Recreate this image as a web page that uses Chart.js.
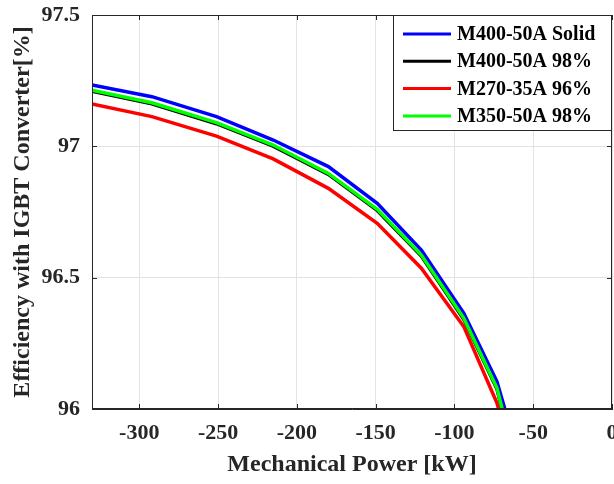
<!DOCTYPE html>
<html lang="en">
<head>
  <meta charset="UTF-8" />
  <title>Efficiency with IGBT Converter</title>
  <script src="https://cdn.jsdelivr.net/npm/chart.js"></script>
  <style>
    body { margin: 0; background: #fff; }
    #wrap { width: 614px; height: 484px; }
  </style>
</head>
<body>
  <div id="wrap"><canvas id="chart" width="614" height="484"></canvas></div>

  <script>
    // mechanical power [kW] at the curve breakpoints
    const power = [-330, -292, -251, -215, -180, -149, -121, -94, -73, -68];

    const m400Solid = [97.234, 97.189, 97.113, 97.024, 96.923, 96.783, 96.605, 96.364, 96.104, 96.0];
    const m400_98  = [97.210, 97.162, 97.086, 97.001, 96.893, 96.756, 96.582, 96.341, 96.076, 95.956];
    const m270_96  = [97.161, 97.113, 97.039, 96.952, 96.840, 96.707, 96.536, 96.313, 96.023, 95.91];
    const m350_98  = [97.214, 97.166, 97.090, 97.005, 96.897, 96.760, 96.586, 96.345, 96.080, 95.96];

    const xTicks = [-300, -250, -200, -150, -100, -50, 0];
    const yTicks = [96, 96.5, 97, 97.5];

    const seriesNames = ['M400-50A Solid', 'M400-50A 98%', 'M270-35A 96%', 'M350-50A 98%'];
    const seriesColors = ['#0000ff', '#000000', '#ff0000', '#00ff00'];
    const seriesData = [m400Solid, m400_98, m270_96, m350_98];

    const serif = '"Liberation Serif", "Times New Roman", serif';
    const axisColor = '#262626';

    // box around the axes + matlab style inward ticks
    const frame = {
      id: 'frame',
      afterDatasetsDraw(chart) {
        const { ctx, chartArea: a, scales } = chart;
        ctx.save();
        ctx.strokeStyle = axisColor;
        ctx.lineWidth = 1;
        ctx.beginPath();
        xTicks.forEach(v => {
          const x = Math.round(scales.x.getPixelForValue(v)) + 0.5;
          ctx.moveTo(x, a.bottom); ctx.lineTo(x, a.bottom - 5);
          ctx.moveTo(x, a.top); ctx.lineTo(x, a.top + 5);
        });
        yTicks.forEach(v => {
          const y = Math.round(scales.y.getPixelForValue(v)) + 0.5;
          ctx.moveTo(a.left, y); ctx.lineTo(a.left + 5, y);
          ctx.moveTo(a.right, y); ctx.lineTo(a.right - 5, y);
        });
        ctx.stroke();
        ctx.strokeRect(a.left + 0.5, a.top + 0.5, a.right - a.left - 1, a.bottom - a.top - 1);
        ctx.restore();
      }
    };

    // legend box in the top right corner of the axes
    const boxLegend = {
      id: 'boxLegend',
      afterDraw(chart) {
        const { ctx, chartArea: a } = chart;
        const w = 219, h = 116;
        const left = a.right - w, top = a.top;
        ctx.save();
        ctx.fillStyle = '#fff';
        ctx.fillRect(left, top, w, h);
        ctx.strokeStyle = axisColor;
        ctx.lineWidth = 1;
        ctx.strokeRect(left + 0.5, top + 0.5, w - 1, h - 1);
        ctx.font = 'bold 20px ' + serif;
        ctx.textBaseline = 'middle';
        ctx.fillStyle = '#000';
        seriesNames.forEach((name, i) => {
          const y = top + 19 + i * 27.3;
          ctx.strokeStyle = seriesColors[i];
          ctx.lineWidth = 3;
          ctx.beginPath();
          ctx.moveTo(left + 10, y); ctx.lineTo(left + 58, y);
          ctx.stroke();
          ctx.fillText(name, left + 64, y + 1);
        });
        ctx.restore();
      }
    };

    const drawOrder = [4, 3, 2, 1];

    new Chart(document.getElementById('chart'), {
      type: 'line',
      data: {
        datasets: seriesData.map((vals, i) => ({
          label: seriesNames[i],
          data: power.map((p, j) => ({ x: p, y: vals[j] })),
          borderColor: seriesColors[i],
          borderWidth: 3.5,
          pointRadius: 0,
          tension: 0,
          order: drawOrder[i]
        }))
      },
      options: {
        responsive: false,
        devicePixelRatio: 1,
        animation: false,
        layout: { padding: { top: 15, right: 2, left: 0, bottom: 0 } },
        plugins: { legend: { display: false }, tooltip: { enabled: false } },
        scales: {
          x: {
            type: 'linear',
            min: -330,
            max: 0,
            afterBuildTicks: s => { s.ticks = xTicks.map(v => ({ value: v })); },
            afterFit: s => { s.height = 75; s.paddingLeft = 0; s.paddingRight = 0; },
            grid: { color: '#e3e3e3', drawTicks: false },
            border: { display: true, color: axisColor },
            ticks: { color: axisColor, padding: 11, maxRotation: 0, font: { family: serif, size: 22, weight: 'bold' } },
            title: {
              display: true,
              text: 'Mechanical Power [kW]',
              color: axisColor,
              padding: { top: 0, bottom: 5 },
              font: { family: serif, size: 24, weight: 'bold' }
            }
          },
          y: {
            min: 96,
            max: 97.5,
            afterBuildTicks: s => { s.ticks = yTicks.map(v => ({ value: v })); },
            afterFit: s => { s.width = 92; s.paddingTop = 0; s.paddingBottom = 0; },
            grid: { color: '#e3e3e3', drawTicks: false },
            border: { display: true, color: axisColor },
            ticks: {
              color: axisColor,
              padding: 12,
              callback: v => String(v),
              font: { family: serif, size: 22, weight: 'bold' }
            },
            title: {
              display: true,
              text: 'Efficiency with IGBT Converter[%]',
              color: axisColor,
              padding: { top: 8, bottom: 0 },
              font: { family: serif, size: 24, weight: 'bold' }
            }
          }
        }
      },
      plugins: [frame, boxLegend]
    });
  </script>
</body>
</html>
